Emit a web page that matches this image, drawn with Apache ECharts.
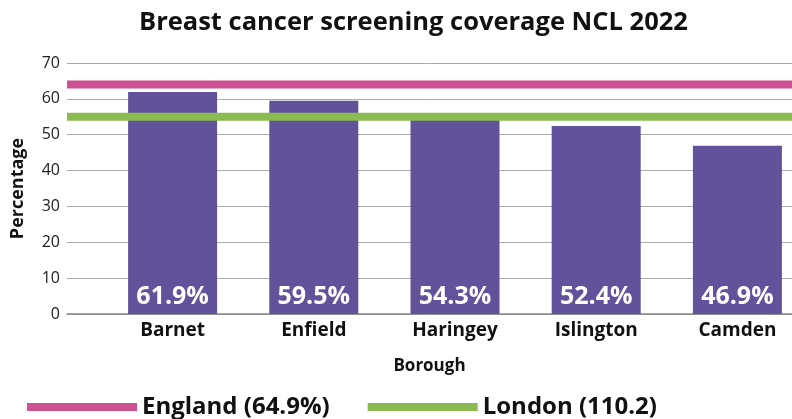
<!DOCTYPE html>
<html>
<head>
<meta charset="utf-8">
<script src="https://cdn.jsdelivr.net/npm/echarts@6/dist/echarts.min.js"></script>
<style>
  html, body { margin: 0; padding: 0; background: #fff; }
  #chart { width: 792px; height: 419px; }
</style>
</head>
<body>
<div id="chart"></div>
<script>
// data
var boroughs = ['Barnet', 'Enfield', 'Haringey', 'Islington', 'Camden'];
var coverage = [61.9, 59.5, 54.3, 52.4, 46.9];
var englandValue = 64;
var londonValue = 55;
var englandName = 'England (64.9%)';
var londonName = 'London (110.2)';
var yTicks = { min: 0, max: 70, interval: 10 };

var font = '"Open Sans", "Noto Sans", sans-serif';
var myChart = echarts.init(document.getElementById('chart'));

myChart.setOption({
  animation: false,
  title: {
    text: 'Breast cancer screening coverage NCL 2022',
    left: 134,
    top: 5,
    textStyle: { fontFamily: font, fontSize: 25.5, fontWeight: 'bold', color: '#111' }
  },
  legend: {
    left: 22,
    top: 390,
    itemWidth: 110,
    itemHeight: 8,
    itemGap: 38,
    icon: 'rect',
    data: [englandName, londonName],
    textStyle: { fontFamily: font, fontSize: 24, fontWeight: 'bold', color: '#111' }
  },
  grid: [
    // background grid: y axis, gridlines, reference lines
    { left: 67, right: 0, top: 63, bottom: 105 },
    // bars (runs past the right edge like the original)
    { left: 102, width: 706, top: 63, bottom: 105, outerBoundsMode: 'none' }
  ],
  xAxis: [
    {
      gridIndex: 0,
      type: 'value',
      min: 0,
      max: 1,
      name: 'Borough',
      nameLocation: 'middle',
      nameGap: 44,
      nameTextStyle: { fontFamily: font, fontSize: 17, fontWeight: 'bold', color: '#111' },
      axisLine: { show: true, lineStyle: { color: '#888', width: 1.5 } },
      axisTick: { show: false },
      axisLabel: { show: false },
      splitLine: { show: false }
    },
    {
      gridIndex: 1,
      type: 'category',
      data: boroughs,
      axisLine: { show: false },
      axisTick: { show: false },
      axisLabel: { margin: 7, fontFamily: font, fontSize: 19, fontWeight: 'bold', color: '#111' }
    }
  ],
  yAxis: [
    {
      gridIndex: 0,
      type: 'value',
      min: yTicks.min,
      max: yTicks.max,
      interval: yTicks.interval,
      name: 'Percentage',
      nameLocation: 'middle',
      nameRotate: 90,
      nameGap: 40,
      nameTextStyle: { fontFamily: font, fontSize: 18, fontWeight: 'bold', color: '#111' },
      axisLine: { show: false },
      axisTick: { show: false },
      axisLabel: { margin: 7, fontFamily: font, fontSize: 16, color: '#222' },
      splitLine: { lineStyle: { color: '#aaa', width: 1 } }
    },
    {
      gridIndex: 1,
      type: 'value',
      min: yTicks.min,
      max: yTicks.max,
      show: false
    }
  ],
  series: [
    {
      name: 'Coverage',
      type: 'bar',
      xAxisIndex: 1,
      yAxisIndex: 1,
      data: coverage,
      barWidth: 89,
      z: 2,
      itemStyle: { color: '#62529C' },
      label: {
        show: true,
        position: 'insideBottom',
        distance: 5,
        formatter: '{c}%',
        color: '#fff',
        fontFamily: font,
        fontSize: 25,
        fontWeight: 'bold'
      }
    },
    {
      name: englandName,
      type: 'line',
      xAxisIndex: 0,
      yAxisIndex: 0,
      data: [[0, englandValue], [1, englandValue]],
      symbol: 'none',
      z: 5,
      lineStyle: { color: '#CE5193', width: 8 },
      itemStyle: { color: '#CE5193' }
    },
    {
      name: londonName,
      type: 'line',
      xAxisIndex: 0,
      yAxisIndex: 0,
      data: [[0, londonValue], [1, londonValue]],
      symbol: 'none',
      z: 5,
      lineStyle: { color: '#8BBB4F', width: 8 },
      itemStyle: { color: '#8BBB4F' }
    }
  ]
});
</script>
</body>
</html>
